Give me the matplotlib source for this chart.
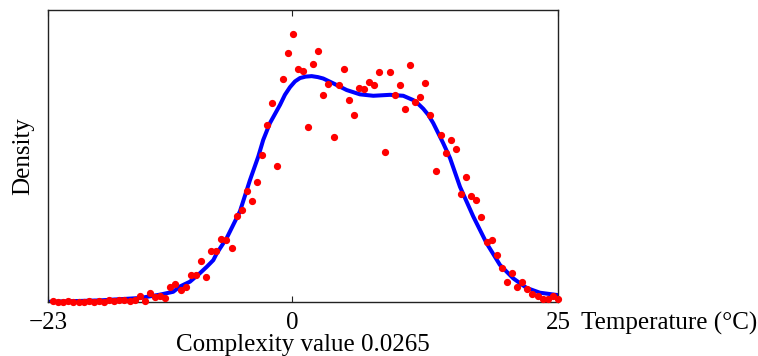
"""
Temperature density: binned observations (red dots) with smoothed density (blue).
"""

import numpy as np
import matplotlib
matplotlib.use("Agg")
import matplotlib.pyplot as plt

# ---- data ----
bin_temps = [
    -22.52, -22.04, -21.56, -21.08, -20.60, -20.12, -19.64, -19.16, -18.68, -18.20,
    -17.72, -17.24, -16.76, -16.28, -15.80, -15.32, -14.84, -14.36, -13.88, -13.40,
    -12.92, -12.44, -11.96, -11.48, -11.00, -10.52, -10.04, -9.56, -9.08, -8.60,
    -8.12, -7.64, -7.16, -6.68, -6.20, -5.72, -5.24, -4.76, -4.28, -3.80,
    -3.32, -2.84, -2.36, -1.88, -1.40, -0.92, -0.44, 0.04, 0.52, 1.00,
    1.48, 1.96, 2.44, 2.92, 3.40, 3.88, 4.36, 4.84, 5.32, 5.80,
    6.28, 6.76, 7.24, 7.72, 8.20, 8.68, 9.16, 9.64, 10.12, 10.60,
    11.08, 11.56, 12.04, 12.52, 13.00, 13.48, 13.96, 14.44, 14.92, 15.40,
    15.88, 16.36, 16.84, 17.32, 17.80, 18.28, 18.76, 19.24, 19.72, 20.20,
    20.68, 21.16, 21.64, 22.12, 22.60, 23.08, 23.56, 24.04, 24.52, 25.00,
]
bin_density = [
    0.0003, 0.0000, 0.0000, 0.0002, 0.0000, 0.0000, 0.0000, 0.0002, 0.0000, 0.0003,
    0.0000, 0.0005, 0.0003, 0.0005, 0.0004, 0.0003, 0.0005, 0.0013, 0.0003, 0.0020,
    0.0012, 0.0014, 0.0009, 0.0031, 0.0038, 0.0025, 0.0031, 0.0056, 0.0057, 0.0087,
    0.0053, 0.0107, 0.0107, 0.0133, 0.0129, 0.0113, 0.0180, 0.0193, 0.0233, 0.0211,
    0.0251, 0.0307, 0.0371, 0.0415, 0.0284, 0.0465, 0.0520, 0.0560, 0.0486, 0.0482,
    0.0366, 0.0498, 0.0524, 0.0433, 0.0456, 0.0346, 0.0453, 0.0486, 0.0422, 0.0391,
    0.0447, 0.0445, 0.0460, 0.0453, 0.0480, 0.0313, 0.0480, 0.0433, 0.0453, 0.0404,
    0.0495, 0.0418, 0.0428, 0.0458, 0.0391, 0.0275, 0.0349, 0.0311, 0.0338, 0.0320,
    0.0227, 0.0262, 0.0222, 0.0213, 0.0177, 0.0126, 0.0129, 0.0099, 0.0071, 0.0042,
    0.0062, 0.0033, 0.0042, 0.0028, 0.0017, 0.0013, 0.0006, 0.0006, 0.0013, 0.0006,
]

curve_temps = [
    -23.0, -18.11, -14.34, -12.46, -11.21, -10.58, -9.64, -8.69, -8.06, -7.44,
    -7.12, -6.18, -4.93, -3.99, -3.21, -2.74, -2.11, -1.16, -0.70, -0.22,
    0.25, 0.72, 1.25, 1.82, 2.40, 2.91, 3.85, 5.11, 6.36, 7.62,
    9.19, 10.44, 11.38, 11.85, 12.32, 12.80, 13.26, 14.20, 14.84, 15.78,
    17.03, 18.29, 19.54, 20.79, 22.05, 23.31, 25.0,
]
curve_density = [
    0.0001, 0.0004, 0.0009, 0.0016, 0.0022, 0.0033, 0.0043, 0.0061, 0.0074, 0.0088,
    0.0102, 0.0134, 0.0190, 0.0255, 0.0304, 0.0339, 0.0374, 0.0412, 0.0433, 0.0449,
    0.0461, 0.0468, 0.0471, 0.0472, 0.0470, 0.0467, 0.0457, 0.0443, 0.0434, 0.0431,
    0.0433, 0.0431, 0.0422, 0.0414, 0.0404, 0.0391, 0.0374, 0.0332, 0.0301, 0.0241,
    0.0179, 0.0123, 0.0078, 0.0050, 0.0030, 0.0020, 0.0015,
]

x_ticks = [-23, 0, 25]
x_ticklabels = ["\u221223", "0", "25"]

plt.rcParams["font.family"] = ["Liberation Serif", "DejaVu Serif"]

fig = plt.figure(figsize=(7.58, 3.56), dpi=100)
ax = fig.add_axes([0.0633, 0.1508, 0.6728, 0.8211])

ax.plot(curve_temps, curve_density, color="#0000FF", linewidth=2.9,
        solid_joinstyle="round", solid_capstyle="round", zorder=2)
ax.plot(bin_temps, bin_density, linestyle="none", marker="o", markersize=4.2,
        markerfacecolor="#FF0000", markeredgecolor="#FF0000", clip_on=False, zorder=3)

ax.set_xlim(-23, 25)
ax.set_ylim(0, 0.061)
ax.set_xticks(x_ticks)
ax.set_xticklabels(x_ticklabels, fontsize=18)
ax.set_yticks([])
ax.tick_params(axis="x", direction="in", length=4, width=0.8, top=True, pad=7,
               color="#222222")

for sp in ax.spines.values():
    sp.set_linewidth(1.0)
    sp.set_color("#222222")

ax.set_ylabel("Density", fontsize=18, labelpad=10)
ax.set_xlabel("Complexity value 0.0265", fontsize=18, labelpad=0)
ax.text(1.045, -0.074, "Temperature (\u00b0C)", transform=ax.transAxes,
        ha="left", va="center", fontsize=18)

fig.savefig("out.png", dpi=100)
plt.close(fig)
